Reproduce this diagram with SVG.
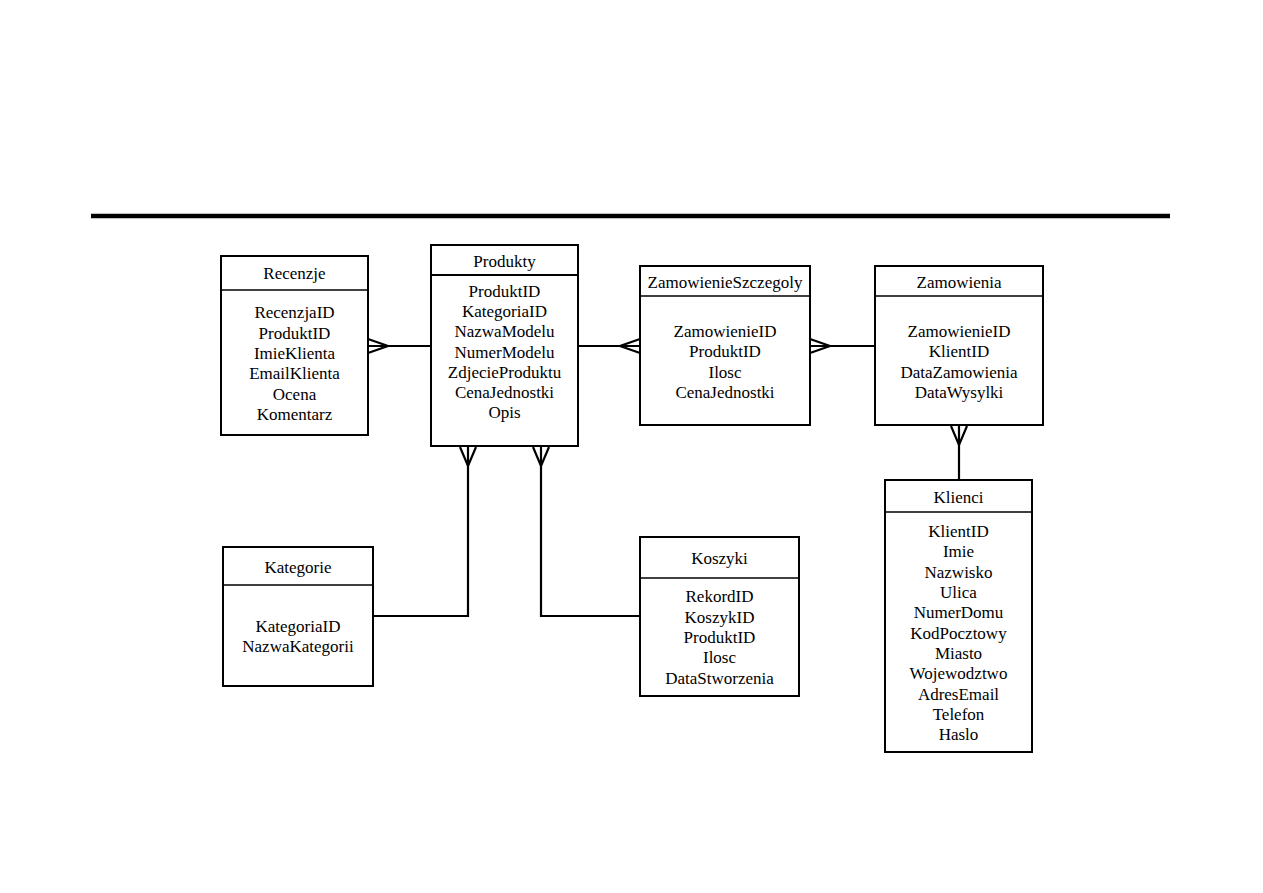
<svg xmlns="http://www.w3.org/2000/svg" width="1263" height="893" viewBox="0 0 1263 893">
<style>
.box{fill:#fff;stroke:#000;stroke-width:2}
.hdr{stroke:#000;stroke-width:1.3}
text{font-family:"Liberation Serif","Times New Roman",serif;font-size:17px;fill:#000;text-anchor:middle}
.c{fill:none;stroke:#000;stroke-width:2.2}
</style>
<rect width="1263" height="893" fill="#fff"/>
<line x1="91" y1="216" x2="1170" y2="216" stroke="#000" stroke-width="4.5"/>
<g id="connectors">
<path class="c" d="M368,346 H431"/>
<path class="c" d="M368,339 L388,346 L368,353"/>
<path class="c" d="M578,346 H640"/>
<path class="c" d="M640,339 L620,346 L640,353"/>
<path class="c" d="M810,346 H875"/>
<path class="c" d="M810,339 L830,346 L810,353"/>
<path class="c" d="M959,425 V480"/>
<path class="c" d="M951,426 L959,445 L967,426"/>
<path class="c" d="M468,446 V616 H373"/>
<path class="c" d="M460,447 L468,466 L476,447"/>
<path class="c" d="M541,446 V616 H640"/>
<path class="c" d="M533,447 L541,466 L549,447"/>
</g>
<g id="recenzje">
<rect class="box" x="221" y="256" width="147" height="179"/>
<line class="hdr" x1="221" y1="290" x2="368" y2="290"/>
<text x="294.5" y="279">Recenzje</text>
<text x="294.5" y="318">RecenzjaID</text>
<text x="294.5" y="339">ProduktID</text>
<text x="294.5" y="359">ImieKlienta</text>
<text x="294.5" y="379">EmailKlienta</text>
<text x="294.5" y="400">Ocena</text>
<text x="294.5" y="420">Komentarz</text>
</g>
<g id="produkty">
<rect class="box" x="431" y="245" width="147" height="201"/>
<line x1="431" y1="275" x2="578" y2="275" stroke="#000" stroke-width="2"/>
<text x="504.5" y="267">Produkty</text>
<text x="504.5" y="297">ProduktID</text>
<text x="504.5" y="317">KategoriaID</text>
<text x="504.5" y="337">NazwaModelu</text>
<text x="504.5" y="358">NumerModelu</text>
<text x="504.5" y="378">ZdjecieProduktu</text>
<text x="504.5" y="398">CenaJednostki</text>
<text x="504.5" y="418">Opis</text>
</g>
<g id="zamowienieszczegoly">
<rect class="box" x="640" y="266" width="170" height="159"/>
<line class="hdr" x1="640" y1="296" x2="810" y2="296"/>
<text x="725" y="288">ZamowienieSzczegoly</text>
<text x="725" y="337">ZamowienieID</text>
<text x="725" y="357">ProduktID</text>
<text x="725" y="378">Ilosc</text>
<text x="725" y="398">CenaJednostki</text>
</g>
<g id="zamowienia">
<rect class="box" x="875" y="266" width="168" height="159"/>
<line class="hdr" x1="875" y1="296" x2="1043" y2="296"/>
<text x="959" y="288">Zamowienia</text>
<text x="959" y="337">ZamowienieID</text>
<text x="959" y="357">KlientID</text>
<text x="959" y="378">DataZamowienia</text>
<text x="959" y="398">DataWysylki</text>
</g>
<g id="klienci">
<rect class="box" x="885" y="480" width="147" height="272"/>
<line class="hdr" x1="885" y1="512" x2="1032" y2="512"/>
<text x="958.5" y="503">Klienci</text>
<text x="958.5" y="537">KlientID</text>
<text x="958.5" y="557">Imie</text>
<text x="958.5" y="578">Nazwisko</text>
<text x="958.5" y="598">Ulica</text>
<text x="958.5" y="618">NumerDomu</text>
<text x="958.5" y="639">KodPocztowy</text>
<text x="958.5" y="659">Miasto</text>
<text x="958.5" y="679">Wojewodztwo</text>
<text x="958.5" y="700">AdresEmail</text>
<text x="958.5" y="720">Telefon</text>
<text x="958.5" y="740">Haslo</text>
</g>
<g id="kategorie">
<rect class="box" x="223" y="547" width="150" height="139"/>
<line class="hdr" x1="223" y1="585" x2="373" y2="585"/>
<text x="298" y="573">Kategorie</text>
<text x="298" y="632">KategoriaID</text>
<text x="298" y="652">NazwaKategorii</text>
</g>
<g id="koszyki">
<rect class="box" x="640" y="537" width="159" height="159"/>
<line class="hdr" x1="640" y1="578" x2="799" y2="578"/>
<text x="719.5" y="564">Koszyki</text>
<text x="719.5" y="602">RekordID</text>
<text x="719.5" y="623">KoszykID</text>
<text x="719.5" y="643">ProduktID</text>
<text x="719.5" y="663">Ilosc</text>
<text x="719.5" y="684">DataStworzenia</text>
</g>
</svg>
